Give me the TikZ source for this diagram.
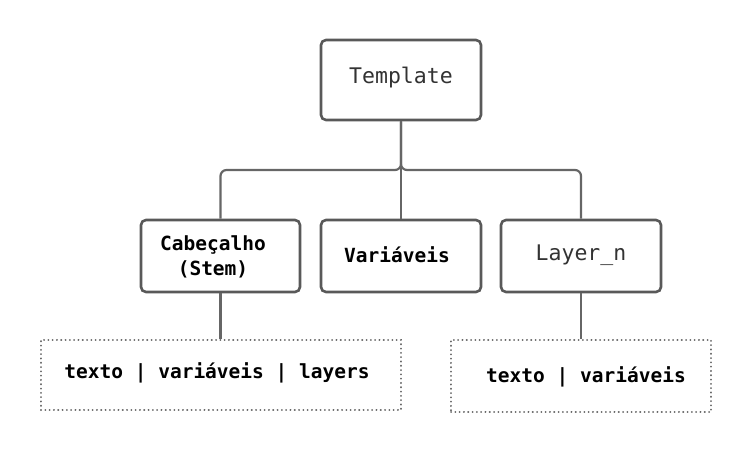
\documentclass[tikz,border=0pt]{standalone}
\usepackage{fontspec}
\setmonofont{DejaVu Sans Mono}
\begin{document}
\begin{tikzpicture}[x=1pt,y=-1pt,
  box/.style={draw=boxgray,line width=2.6pt,rounded corners=5pt,fill=white,inner sep=0pt},
  dotbox/.style={draw=linegray,line width=2pt,dash pattern=on 0.1pt off 4.2pt,line cap=round,inner sep=0pt},
  conn/.style={draw=linegray,line width=2.2pt,rounded corners=6pt},
  regtxt/.style={font=\fontsize{21.5}{24}\selectfont\ttfamily,text=textgray},
  boldtxt/.style={font=\fontsize{19.5}{25}\selectfont\ttfamily\bfseries,text=black}]
\definecolor{boxgray}{HTML}{595959}
\definecolor{linegray}{HTML}{666666}
\definecolor{textgray}{HTML}{333333}
\useasboundingbox (0,0) rectangle (753,456);
% connectors
\coordinate (J) at (401,170);
\node[box,minimum width=160pt,minimum height=80pt] (T) at (401,80) {};
\node[box,minimum width=159pt,minimum height=72pt] (C) at (220.5,256) {};
\node[box,minimum width=160pt,minimum height=72pt] (V) at (401,256) {};
\node[box,minimum width=160pt,minimum height=72pt] (L) at (581,256) {};
\node[dotbox,minimum width=360pt,minimum height=70pt] (D1) at (221,375) {};
\node[dotbox,minimum width=260pt,minimum height=72pt] (D2) at (581,376) {};
\draw[conn] (T.south) -- (J) -- (C.north |- J) -- (C.north);
\draw[conn] (T.south) -- (J) -- (L.north |- J) -- (L.north);
\draw[conn] (T.south) -- (V.north);
\draw[conn] (C.south) -- (C.south |- D1.north);
\draw[conn] (L.south) -- (L.south |- D2.north);
% texts
\node[regtxt] (Tt) at (401,78) {Template};
\node[boldtxt,align=center] (Ct) at (213,257) {Cabeçalho\\(Stem)};
\node[boldtxt] (Vt) at (397,255) {Variáveis};
\node[regtxt] (Lt) at (581,255) {Layer\_n};
\node[boldtxt] (D1t) at (217,373) {texto | variáveis | layers};
\node[boldtxt] (D2t) at (586,377) {texto | variáveis};
\end{tikzpicture}
\end{document}
